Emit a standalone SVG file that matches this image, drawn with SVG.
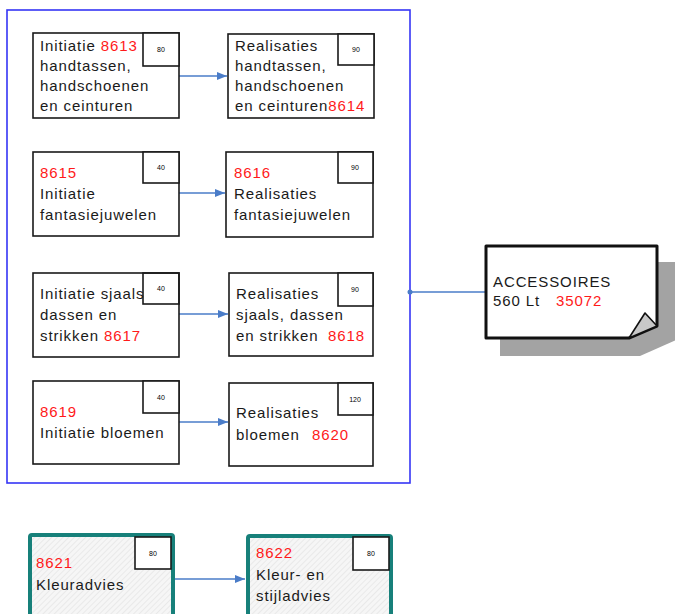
<svg xmlns="http://www.w3.org/2000/svg" width="675" height="614" viewBox="0 0 675 614">
<style>
text{font-family:"Liberation Sans",Arial,sans-serif;font-size:15px;letter-spacing:0.9px;fill:#1a1a1a}
.r{fill:#ff1a1a}
.box{fill:#fff;stroke:#1a1a1a;stroke-width:1.6}
.sm{fill:#fff;stroke:#1a1a1a;stroke-width:1.6}
text.n{font-size:7px;letter-spacing:0;text-anchor:middle;fill:#000}
.tb{fill:url(#hatch);stroke:#17807a;stroke-width:4}
.con{stroke:#4a7cc8;stroke-width:1.6;fill:none}
</style>
<defs>
<marker id="ah" markerWidth="10" markerHeight="8" refX="10" refY="4" orient="auto" markerUnits="userSpaceOnUse">
<path d="M0,0 L10,4 L0,8 Z" fill="#4a7cc8"/>
</marker>
<pattern id="hatch" width="4" height="4" patternUnits="userSpaceOnUse" patternTransform="rotate(45)">
<rect width="4" height="4" fill="#f6f6f6"/>
<line x1="0" y1="0" x2="0" y2="4" stroke="#dcdcdc" stroke-width="1"/>
</pattern>
</defs>

<rect id="container" x="7" y="10" width="403" height="473" fill="none" stroke="#3535f5" stroke-width="1.6"/>

<g id="connectors">
<line class="con" x1="179" y1="76" x2="227" y2="76" marker-end="url(#ah)"/>
<line class="con" x1="179" y1="193" x2="225" y2="193" marker-end="url(#ah)"/>
<line class="con" x1="179" y1="314" x2="228" y2="314" marker-end="url(#ah)"/>
<line class="con" x1="179" y1="422" x2="228" y2="422" marker-end="url(#ah)"/>
<line class="con" x1="175" y1="579" x2="245" y2="579" marker-end="url(#ah)"/>
<line class="con" x1="410" y1="292" x2="486" y2="292"/>
<circle cx="410" cy="292" r="2.5" fill="#4a7cc8"/>
</g>

<g id="n8613">
<rect class="box" x="33" y="33" width="146" height="85"/>
<rect class="sm" x="143" y="33" width="36" height="33"/>
<text class="n" x="161" y="52">80</text>
<text x="40" y="51">Initiatie <tspan class="r">8613</tspan></text>
<text x="40" y="71">handtassen,</text>
<text x="40" y="91">handschoenen</text>
<text x="40" y="111">en ceinturen</text>
</g>

<g id="n8614">
<rect class="box" x="228" y="34" width="146" height="84"/>
<rect class="sm" x="338" y="34" width="36" height="31"/>
<text class="n" x="356" y="52">90</text>
<text x="235" y="51">Realisaties</text>
<text x="235" y="71">handtassen,</text>
<text x="235" y="91">handschoenen</text>
<text x="235" y="111">en ceinturen<tspan class="r">8614</tspan></text>
</g>

<g id="n8615">
<rect class="box" x="33" y="152" width="146" height="84"/>
<rect class="sm" x="143" y="152" width="36" height="31"/>
<text class="n" x="161" y="170">40</text>
<text x="40" y="178" class="r">8615</text>
<text x="40" y="199">Initiatie</text>
<text x="40" y="220">fantasiejuwelen</text>
</g>

<g id="n8616">
<rect class="box" x="226" y="152" width="147" height="85"/>
<rect class="sm" x="338" y="152" width="35" height="31"/>
<text class="n" x="355" y="170">90</text>
<text x="234" y="178" class="r">8616</text>
<text x="234" y="199">Realisaties</text>
<text x="234" y="220">fantasiejuwelen</text>
</g>

<g id="n8617">
<rect class="box" x="33" y="273" width="146" height="84"/>
<text x="40" y="299">Initiatie sjaals</text>
<text x="40" y="320">dassen en</text>
<text x="40" y="341">strikken <tspan class="r">8617</tspan></text>
<rect class="sm" x="143" y="273" width="36" height="31" style="fill:none"/>
<text class="n" x="161" y="291">40</text>
</g>

<g id="n8618">
<rect class="box" x="229" y="273" width="144" height="83"/>
<rect class="sm" x="338" y="273" width="35" height="33"/>
<text class="n" x="355" y="292">90</text>
<text x="236" y="299">Realisaties</text>
<text x="236" y="320">sjaals, dassen</text>
<text x="236" y="341">en strikken <tspan class="r" x="328">8618</tspan></text>
</g>

<g id="n8619">
<rect class="box" x="33" y="381" width="146" height="83"/>
<rect class="sm" x="143" y="381" width="36" height="32"/>
<text class="n" x="161" y="400">40</text>
<text x="40" y="417" class="r">8619</text>
<text x="40" y="438">Initiatie bloemen</text>
</g>

<g id="n8620">
<rect class="box" x="229" y="383" width="144" height="83"/>
<rect class="sm" x="338" y="383" width="35" height="32"/>
<text class="n" x="355" y="402">120</text>
<text x="236" y="418">Realisaties</text>
<text x="236" y="440">bloemen <tspan class="r" x="312">8620</tspan></text>
</g>

<g id="accessoires">
<path d="M500,262 H676 V340 L640,356 H500 Z" fill="#a3a3a3"/>
<path d="M486,246 H657 V326 L629,338 H486 Z" fill="#fff" stroke="#111" stroke-width="3" stroke-linejoin="round"/>
<path d="M629,338 L645,313 L657,326 Z" fill="#c8c8c8" stroke="#111" stroke-width="1.6" stroke-linejoin="round"/>
<text x="493" y="287">ACCESSOIRES</text>
<text x="493" y="306">560 Lt <tspan class="r" x="556">35072</tspan></text>
</g>

<g id="n8621">
<rect class="tb" x="30" y="535" width="143" height="90" rx="2"/>
<rect class="sm" x="135" y="537" width="36" height="32"/>
<text class="n" x="153" y="556">80</text>
<text x="36" y="568" class="r">8621</text>
<text x="36" y="590">Kleuradvies</text>
</g>

<g id="n8622">
<rect class="tb" x="248" y="536" width="143" height="90" rx="2"/>
<rect class="sm" x="353" y="537" width="36" height="33"/>
<text class="n" x="371" y="556">80</text>
<text x="256" y="558" class="r">8622</text>
<text x="256" y="580">Kleur- en</text>
<text x="256" y="601">stijladvies</text>
</g>
</svg>
